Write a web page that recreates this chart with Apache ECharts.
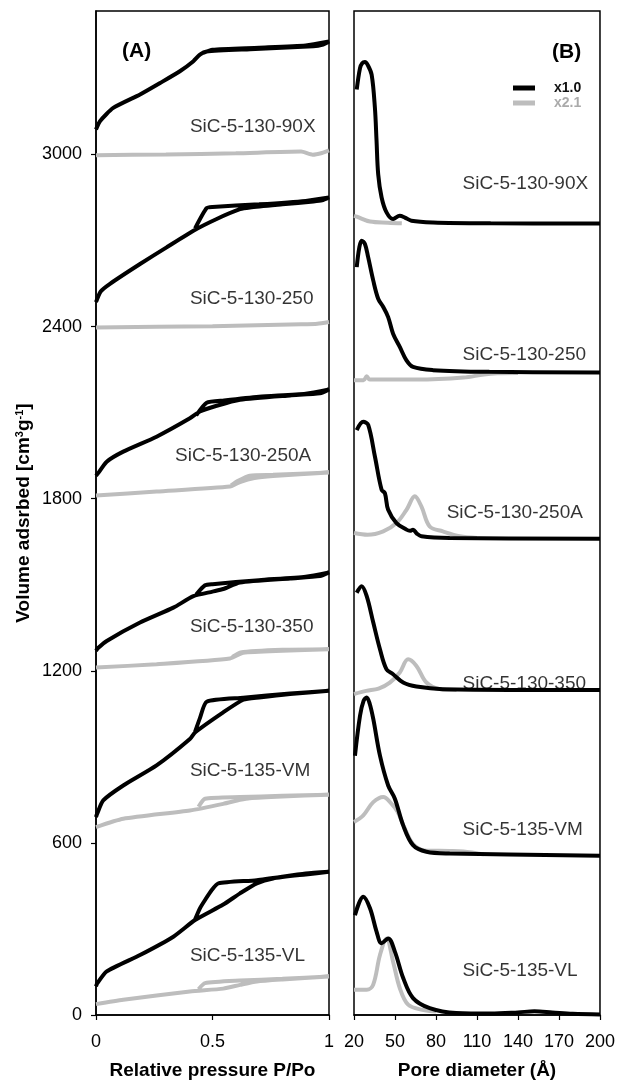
<!DOCTYPE html>
<html>
<head>
<meta charset="utf-8">
<script src="https://cdn.jsdelivr.net/npm/echarts@6/dist/echarts.min.js"></script>
<style>
html,body{margin:0;padding:0;background:#fff}
#chart{width:618px;height:1085px}
</style>
</head>
<body>
<div id="chart"></div>
<script>
// sample names, top to bottom
var samples = ['SiC-5-130-90X', 'SiC-5-130-250', 'SiC-5-130-250A', 'SiC-5-130-350', 'SiC-5-135-VM', 'SiC-5-135-VL'];

// ticks
var ticksPressure = [0, 0.5, 1];
var ticksVolume = [0, 600, 1200, 1800, 2400, 3000];
var ticksPore = [20, 50, 80, 110, 140, 170, 200];

// (A) isotherms [P/Po, volume], adsorption then desorption back
var iso90X_k = [[0,3087],[0.017,3116],[0.074,3162],[0.189,3209],[0.275,3249],[0.36,3290],[0.418,3325],[0.446,3348],[0.475,3359],[0.661,3367],[0.933,3377],[0.97,3382],[1,3394],[0.9,3380],[0.7,3372],[0.5,3365],[0.46,3354]];
var iso90X_g = [[0,2997],[0.3,3000],[0.6,3004],[0.88,3010],[0.93,2999],[0.97,3005],[1,3014]];
var iso250_k = [[0,2485],[0.02,2522],[0.06,2549],[0.189,2618],[0.303,2676],[0.418,2734],[0.518,2775],[0.618,2809],[0.661,2815],[0.8,2826],[0.933,2836],[0.97,2840],[1,2850],[0.9,2838],[0.7,2826],[0.5,2817],[0.475,2813],[0.425,2742]];
var iso250_g = [[0,2397],[0.5,2401],[0.88,2408],[0.95,2410],[1,2416]];
var iso250A_k = [[0,1880],[0.01,1890],[0.046,1929],[0.117,1964],[0.26,2016],[0.403,2080],[0.446,2104],[0.518,2124],[0.618,2145],[0.833,2160],[0.961,2167],[1,2181],[0.9,2166],[0.7,2155],[0.55,2142],[0.475,2134],[0.43,2090]];
var iso250A_g = [[0,1811],[0.26,1825],[0.575,1842],[0.618,1858],[0.68,1872],[0.76,1879],[1,1891],[0.76,1883],[0.66,1880],[0.61,1862],[0.58,1846]];
var iso350_k = [[0,1270],[0.01,1280],[0.046,1304],[0.189,1368],[0.332,1420],[0.418,1460],[0.5,1476],[0.546,1485],[0.618,1508],[0.833,1522],[0.961,1530],[1,1543],[0.9,1528],[0.7,1516],[0.5,1502],[0.468,1498],[0.43,1466]];
var iso350_g = [[0,1211],[0.26,1223],[0.575,1243],[0.632,1263],[0.8,1270],[1,1275],[0.8,1273],[0.62,1264],[0.585,1248]];
var isoVM_k = [[0,690],[0.005,702],[0.031,748],[0.117,800],[0.26,870],[0.403,962],[0.425,985],[0.546,1055],[0.632,1099],[0.7,1107],[0.833,1119],[1,1130],[0.833,1121],[0.632,1106],[0.475,1092],[0.446,1035],[0.425,987]];
var isoVM_g = [[0,655],[0.117,684],[0.403,713],[0.546,736],[0.618,750],[0.66,756],[0.8,762],[1,768],[0.8,764],[0.618,760],[0.468,754],[0.44,726]];
var isoVL_k = [[0,100],[0.005,110],[0.046,152],[0.189,209],[0.332,273],[0.425,331],[0.546,385],[0.618,424],[0.69,459],[0.76,476],[0.9,490],[1,499],[0.9,493],[0.69,470],[0.525,459],[0.496,435],[0.468,401],[0.446,372],[0.425,333]];
var isoVL_g = [[0,38],[0.117,53],[0.403,82],[0.546,92],[0.618,105],[0.69,117],[0.8,124],[1,134],[0.8,126],[0.618,120],[0.468,111],[0.44,90]];

// (B) pore size distributions [diameter A, offset value]
var psd90X_k = [[22,3226],[24.4,3301],[26,3318],[28,3322],[30,3312],[32.9,3278],[35.3,3162],[36.5,3047],[37.7,2931],[40.2,2850],[43.8,2798],[48.6,2775],[53.5,2786],[57.2,2780],[62,2769],[77.8,2763],[120,2760],[200,2759]];
var psd90X_g = [[20,2786],[22,2783],[31.7,2766],[45,2762],[55,2760]];
var psd250_k = [[22,2607],[23.9,2676],[25.6,2699],[28,2688],[30.4,2641],[34.1,2560],[37.7,2497],[41.4,2468],[45,2433],[48.6,2375],[53.5,2329],[58.4,2282],[63.2,2259],[77.8,2248],[119,2242],[200,2240]];
var psd250_g = [[20,2213],[27,2213],[29.3,2227],[31.5,2215],[65.7,2215],[100,2222],[115,2233],[125,2237],[140,2238]];
var psd250A_k = [[22,2039],[26.8,2068],[30.4,2057],[35.3,1947],[40.2,1831],[42.6,1819],[45,1761],[51.1,1715],[58.4,1692],[61,1688],[63.2,1692],[66,1678],[69.3,1669],[90,1663],[200,1660]];
var psd250A_g = [[20,1680],[30,1674],[41.4,1686],[51.1,1715],[58.4,1761],[64.5,1808],[69.3,1773],[75.4,1703],[85,1686],[97.3,1669],[110,1663]];
var psd350_k = [[22,1472],[25.6,1495],[29.3,1460],[34.1,1368],[39,1275],[43.8,1205],[48.6,1188],[56,1159],[65.7,1145],[85,1136],[200,1133]];
var psd350_g = [[20,1119],[29,1130],[38,1138],[46.2,1159],[53.5,1194],[59.6,1240],[65.7,1217],[73,1159],[82.7,1136],[95,1133]];
var psdVM_k = [[20.7,904],[24.4,1043],[27,1095],[29.3,1107],[31.5,1085],[34.1,1032],[39,904],[45,800],[49.9,754],[56,661],[63.2,592],[73,569],[90,563],[200,555]];
var psdVM_g = [[20,673],[26.8,696],[34.1,742],[41.4,760],[47.5,736],[52,708],[56,663],[63.2,596],[73,573],[90,572],[100,570],[115,560]];
var psdVL_k = [[20.7,348],[26.8,412],[31.7,372],[36.5,291],[40.2,250],[45,267],[49.9,221],[56,129],[63.2,59],[75.4,24],[94.8,7],[120,5],[140,9],[152,13],[165,9],[180,4],[200,2]];
var psdVL_g = [[20,88],[29.3,88],[34,105],[39,209],[43.8,267],[48.6,186],[53.5,94],[59.6,36],[70,18],[80,12]];

// where the sample names sit (data coords, left edge of text)
var tagA = [[0.403,3095],[0.403,2498],[0.339,1949],[0.403,1355],[0.403,851],[0.403,205]];
var tagB = [[99.4,2897],[99.4,2300],[87.8,1751],[99.4,1153],[99.4,646],[99.4,153]];

var BLACK = '#000';
var GRAY = '#bdbdbd';
var FONT = 'Liberation Sans, Arial, sans-serif';

function curve(data, color, panel, name, smooth) {
    return {
        name: name,
        type: 'line',
        xAxisIndex: panel,
        yAxisIndex: panel,
        data: data,
        showSymbol: false,
        smooth: smooth,
        lineStyle: {color: color, width: 4},
        itemStyle: {color: color},
        z: color === BLACK ? 3 : 2,
        silent: true
    };
}

function tags(data, panel) {
    return {
        type: 'scatter',
        xAxisIndex: panel,
        yAxisIndex: panel,
        data: data,
        symbolSize: 0,
        silent: true,
        z: 5,
        label: {
            show: true,
            position: 'right',
            distance: 0,
            fontFamily: FONT,
            fontSize: 19,
            color: '#000',
            formatter: function (p) { return samples[p.dataIndex]; }
        }
    };
}

var isoK = [iso90X_k, iso250_k, iso250A_k, iso350_k, isoVM_k, isoVL_k];
var isoG = [iso90X_g, iso250_g, iso250A_g, iso350_g, isoVM_g, isoVL_g];
var psdK = [psd90X_k, psd250_k, psd250A_k, psd350_k, psdVM_k, psdVL_k];
var psdG = [psd90X_g, psd250_g, psd250A_g, psd350_g, psdVM_g, psdVL_g];

var series = [];
for (var i = 0; i < samples.length; i++) {
    series.push(curve(isoG[i], GRAY, 0, 'A-' + samples[i] + '-g', 0.2));
    series.push(curve(isoK[i], BLACK, 0, 'A-' + samples[i] + '-k', 0.2));
    series.push(curve(psdG[i], GRAY, 1, 'x2.1', 0.35));
    series.push(curve(psdK[i], BLACK, 1, 'x1.0', 0.35));
}
series.push(tags(tagA, 0));
series.push(tags(tagB, 1));

var axisText = {fontFamily: FONT, fontSize: 18, color: '#000'};
var nameText = {fontFamily: FONT, fontSize: 19, fontWeight: 'bold', color: '#000'};
var line = {show: true, lineStyle: {color: '#000', width: 1.5}};
var tick = {show: true, length: 5, lineStyle: {color: '#000', width: 1.2}};
var plain = function (v) { return String(v); };

var option = {
    animation: false,
    backgroundColor: '#fff',
    title: [
        {text: '(A)', left: 117, top: 36, textStyle: {fontFamily: FONT, fontSize: 21, fontWeight: 'bold', color: '#000'}},
        {text: '(B)', left: 547, top: 37, textStyle: {fontFamily: FONT, fontSize: 21, fontWeight: 'bold', color: '#000'}}
    ],
    legend: {
        data: [
            {name: 'x1.0', textStyle: {color: '#111'}},
            {name: 'x2.1', textStyle: {color: '#aaa'}}
        ],
        orient: 'vertical',
        left: 508,
        top: 76,
        itemWidth: 22,
        itemHeight: 5,
        itemGap: 1,
        icon: 'rect',
        selectedMode: false,
        textStyle: {fontFamily: FONT, fontSize: 14, fontWeight: 'bold', lineHeight: 14, padding: [0, 0, 0, 14]}
    },
    grid: [
        {left: 96, top: 11, width: 233, bottom: 68, show: true, borderColor: '#000', borderWidth: 1.5, backgroundColor: 'transparent'},
        {left: 354, top: 11, width: 247, bottom: 68, show: true, borderColor: '#000', borderWidth: 1.5, backgroundColor: 'transparent'}
    ],
    xAxis: [
        {
            type: 'value', gridIndex: 0, min: 0, max: 1,
            name: 'Relative pressure P/Po', nameLocation: 'middle', nameGap: 46, nameTextStyle: nameText,
            axisLine: line, axisTick: Object.assign({customValues: ticksPressure}, tick),
            axisLabel: Object.assign({customValues: ticksPressure, margin: 18, formatter: plain}, axisText),
            splitLine: {show: false}
        },
        {
            type: 'value', gridIndex: 1, min: 20, max: 200,
            name: 'Pore diameter (Å)', nameLocation: 'middle', nameGap: 46, nameTextStyle: nameText,
            axisLine: line, axisTick: Object.assign({customValues: ticksPore}, tick),
            axisLabel: Object.assign({customValues: ticksPore, margin: 18, formatter: plain}, axisText),
            splitLine: {show: false}
        }
    ],
    yAxis: [
        {
            type: 'value', gridIndex: 0, min: 0, max: 3500,
            name: 'Volume adsrbed [cm{sup|3}g{sup|-1}]', nameLocation: 'middle', nameGap: 63,
            nameTextStyle: Object.assign({rich: {sup: {fontFamily: FONT, fontSize: 11, fontWeight: 'bold', verticalAlign: 'top', padding: [0, 0, 7, 0]}}}, nameText),
            axisLine: line, axisTick: Object.assign({customValues: ticksVolume}, tick),
            axisLabel: Object.assign({customValues: ticksVolume, margin: 14, formatter: plain}, axisText),
            splitLine: {show: false}
        },
        {
            type: 'value', gridIndex: 1, min: 0, max: 3500,
            axisLine: {show: false}, axisTick: {show: false}, axisLabel: {show: false},
            splitLine: {show: false}
        }
    ],
    series: series
};

var chart = echarts.init(document.getElementById('chart'), null, {renderer: 'canvas'});
chart.setOption(option);
</script>
</body>
</html>
